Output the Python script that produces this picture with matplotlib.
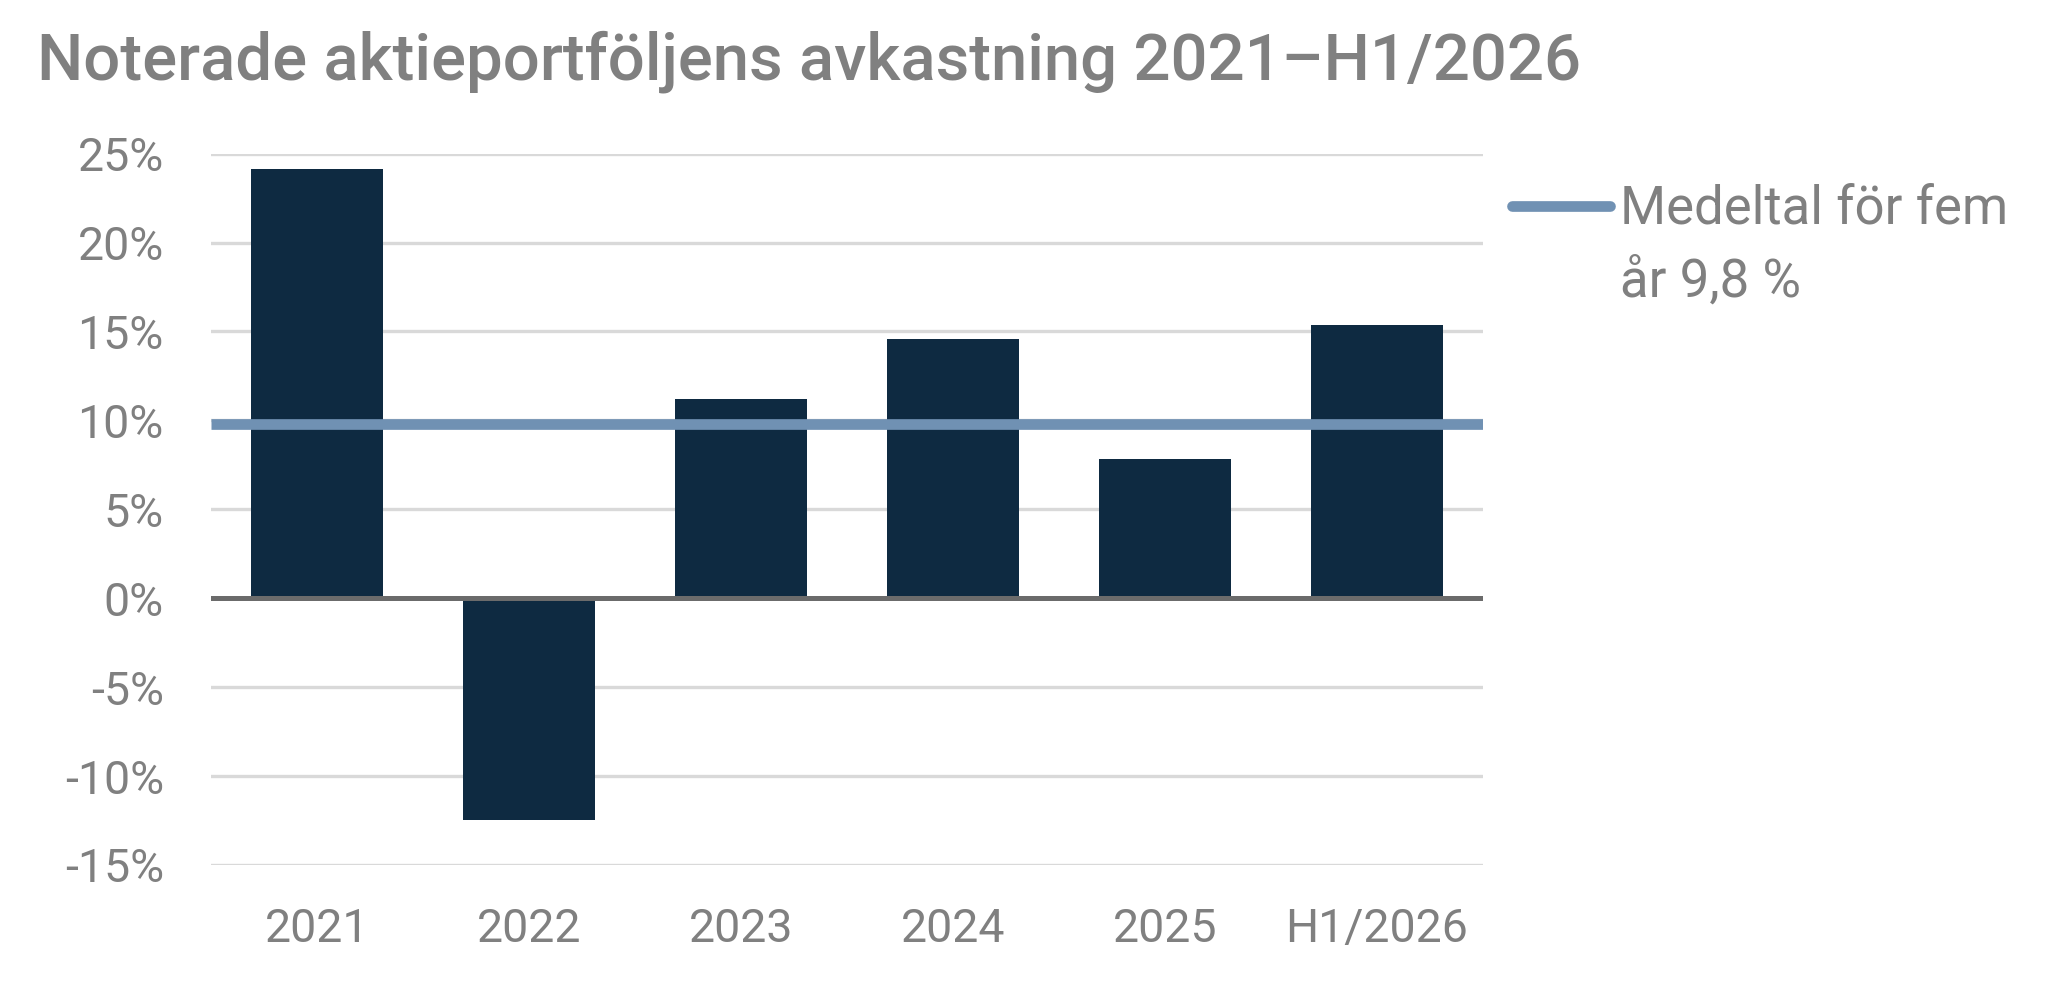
import matplotlib
matplotlib.use("Agg")
import matplotlib.pyplot as plt
from matplotlib.lines import Line2D

# ---- data ----
categories = ["2021", "2022", "2023", "2024", "2025", "H1/2026"]
returns_pct = [24.15, -12.45, 11.2, 14.6, 7.85, 15.35]
mean_pct = 9.8
y_ticks = [-15, -10, -5, 0, 5, 10, 15, 20, 25]
y_tick_labels = ["-15%", "-10%", "-5%", "0%", "5%", "10%", "15%", "20%", "25%"]
title = "Noterade aktieportföljens avkastning 2021\u2013H1/2026"
legend_lines = ["Medeltal för fem", "år 9,8 %"]

FONT = ["Roboto", "DejaVu Sans"]
TEXT_GRAY = "#808080"
BAR_COLOR = "#0e2a41"
MEAN_COLOR = "#7091b3"
GRID_COLOR = "#d9d9d9"
ZERO_COLOR = "#6b6b6b"

plt.rcParams["font.family"] = FONT

fig = plt.figure(figsize=(20.59, 9.81), dpi=100)
ax = fig.add_axes([211 / 2059, 1 - 865 / 981, 1272 / 2059, (865 - 153.6) / 981])

x = list(range(len(categories)))
ax.bar(x, returns_pct, width=0.62, color=BAR_COLOR, zorder=2)
ax.axhline(0, color=ZERO_COLOR, lw=3.6, zorder=3)
ax.axhline(mean_pct, color=MEAN_COLOR, lw=7.7, zorder=4, solid_capstyle="butt")

ax.set_xlim(-0.5, len(categories) - 0.5)
ax.set_ylim(-15, 25)
ax.set_yticks(y_ticks)
ax.set_yticklabels(y_tick_labels)
ax.set_xticks(x)
ax.set_xticklabels(categories)
ax.yaxis.grid(True, color=GRID_COLOR, lw=2.4, zorder=0)
ax.set_axisbelow(True)
for s in ax.spines.values():
    s.set_visible(False)
ax.tick_params(axis="both", length=0, labelcolor=TEXT_GRAY, labelsize=33.5)
ax.tick_params(axis="y", pad=34)
ax.tick_params(axis="x", pad=30)

fig.text(37 / 2059, 1 - 30 / 981, title, ha="left", va="top",
         fontsize=47, fontweight="medium", color=TEXT_GRAY)

handles = [Line2D([], [], color=MEAN_COLOR, lw=7.7, solid_capstyle="round"),
           Line2D([], [], color="none")]
leg = fig.legend(handles, legend_lines, loc="upper left",
                 bbox_to_anchor=(1512 / 2059, 1 - 184 / 981),
                 frameon=False, fontsize=38, handlelength=1.85, handletextpad=0.2,
                 labelspacing=0.4, borderaxespad=0, borderpad=0, labelcolor=TEXT_GRAY)

fig.savefig("out.png", dpi=100)
